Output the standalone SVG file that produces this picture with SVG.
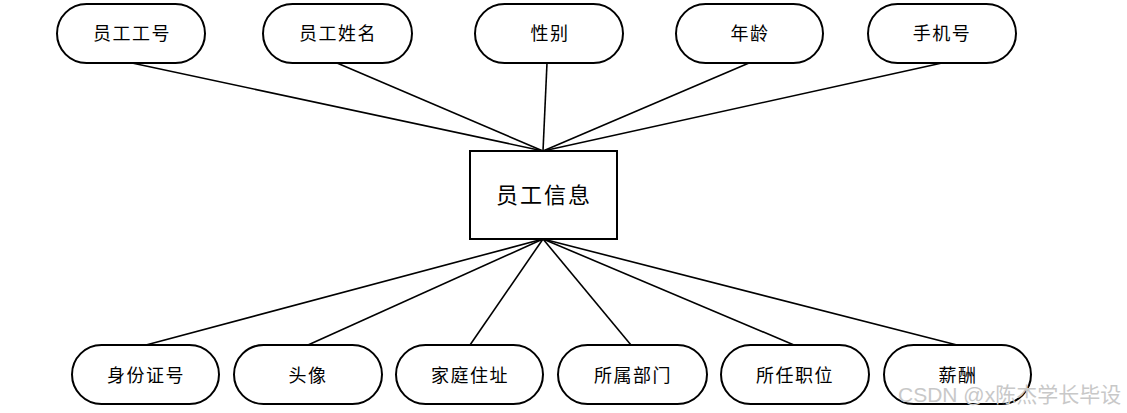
<svg xmlns="http://www.w3.org/2000/svg" width="1127" height="413" viewBox="0 0 1127 413">
<style>
.pill{fill:#fff;stroke:#000;stroke-width:2}
.box{fill:#fff;stroke:#000;stroke-width:2}
.lbl{font-family:"Noto Sans CJK SC","Liberation Sans",sans-serif;font-size:18px;fill:#000;text-anchor:middle;letter-spacing:1.5px}
.big{font-family:"Noto Sans CJK SC","Liberation Sans",sans-serif;font-size:22px;fill:#000;text-anchor:middle;letter-spacing:2px}
.wm{font-family:"Liberation Sans","Noto Sans CJK SC",sans-serif;font-size:21px;fill:#c8c8c8}
#edges line{stroke:#000;stroke-width:1.6}
</style>
<rect width="1127" height="413" fill="#fff"/>
<g id="edges">
<line x1="132" y1="63" x2="543" y2="151"/>
<line x1="337" y1="63" x2="543" y2="151"/>
<line x1="547" y1="63" x2="543" y2="151"/>
<line x1="749" y1="63" x2="543" y2="151"/>
<line x1="942" y1="63" x2="543" y2="151"/>
<line x1="146" y1="345" x2="543" y2="239"/>
<line x1="308" y1="345" x2="543" y2="239"/>
<line x1="470" y1="345" x2="543" y2="239"/>
<line x1="631" y1="345" x2="543" y2="239"/>
<line x1="794" y1="345" x2="543" y2="239"/>
<line x1="957" y1="345" x2="543" y2="239"/>
</g>
<g id="n_center"><rect class="box" x="470" y="151" width="147" height="88"/><text class="big" x="544" y="203">员工信息</text></g>
<g id="n_gh"><rect class="pill" x="57" y="4" width="148" height="59" rx="29.5"/><text class="lbl" x="132" y="40">员工工号</text></g>
<g id="n_xm"><rect class="pill" x="263" y="4" width="149" height="59" rx="29.5"/><text class="lbl" x="338" y="40">员工姓名</text></g>
<g id="n_xb"><rect class="pill" x="475" y="4" width="148" height="59" rx="29.5"/><text class="lbl" x="550" y="40">性别</text></g>
<g id="n_nl"><rect class="pill" x="676" y="4" width="147" height="59" rx="29.5"/><text class="lbl" x="750" y="40">年龄</text></g>
<g id="n_sj"><rect class="pill" x="868" y="4" width="148" height="59" rx="29.5"/><text class="lbl" x="942" y="40">手机号</text></g>
<g id="n_sfz"><rect class="pill" x="72" y="345" width="147" height="59" rx="29.5"/><text class="lbl" x="146" y="382">身份证号</text></g>
<g id="n_tx"><rect class="pill" x="234" y="345" width="148" height="59" rx="29.5"/><text class="lbl" x="308" y="382">头像</text></g>
<g id="n_jt"><rect class="pill" x="396" y="345" width="147" height="59" rx="29.5"/><text class="lbl" x="470" y="382">家庭住址</text></g>
<g id="n_bm"><rect class="pill" x="558" y="345" width="149" height="59" rx="29.5"/><text class="lbl" x="633" y="382">所属部门</text></g>
<g id="n_zw"><rect class="pill" x="721" y="345" width="148" height="59" rx="29.5"/><text class="lbl" x="795" y="382">所任职位</text></g>
<g id="n_xc"><rect class="pill" x="884" y="345" width="147" height="59" rx="29.5"/><text class="lbl" x="958" y="382">薪酬</text></g>
<text class="wm" x="898" y="402">CSDN @x<tspan font-family="Noto Sans CJK SC,sans-serif">陈杰学长毕设</tspan></text>
</svg>
